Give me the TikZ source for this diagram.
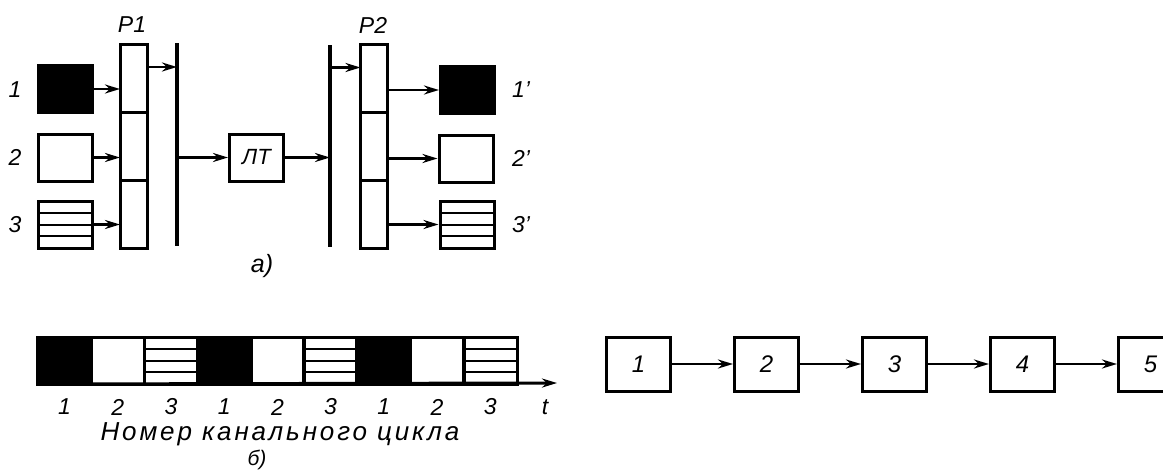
\documentclass[tikz,border=0pt]{standalone}
\usepackage{fontspec}
\setmainfont{Liberation Sans}
\newfontfamily\widefont[LetterSpace=11]{Liberation Sans}
\usetikzlibrary{arrows.meta, positioning, calc}
\tikzstyle{lbl} = [font=\fontsize{23}{27}\selectfont\itshape, inner sep=0pt]
\tikzstyle{chan} = [rectangle, draw=black, line width=3pt, minimum width=54pt, minimum height=47pt, inner sep=0pt, font=\fontsize{22}{26}\selectfont\itshape]
\tikzstyle{blackbox} = [chan, fill=black]
\tikzstyle{striped} = [chan, path picture={\foreach \k in {1,2,3} \draw[line width=2pt] ($(path picture bounding box.north west)!\k/4!(path picture bounding box.south west)$) -- ($(path picture bounding box.north east)!\k/4!(path picture bounding box.south east)$);}]
\tikzstyle{regcell} = [rectangle, draw=black, line width=3pt, minimum width=27pt, minimum height=68pt, inner sep=0pt, outer sep=0pt]
\tikzstyle{slot} = [chan, minimum width=53.2pt, minimum height=45pt, outer sep=0pt]
\tikzstyle{unit} = [chan, minimum width=64pt, minimum height=54pt, font=\fontsize{24}{28}\selectfont\itshape]
\tikzstyle{bus} = [line width=3.5pt]
\tikzstyle{arrow} = [-{Stealth[length=15pt,width=9pt]}, line width=2.5pt]

\begin{document}
\begin{tikzpicture}[x=1pt, y=-1pt]
\useasboundingbox (0,0) rectangle (1163,471);
%источники каналов
\node[blackbox](src1) at (65,89) {};
\node[chan](src2) at (65,157.5) {};
\node[striped](src3) at (65,224.5) {};
\node[lbl](lab1) at (15,90) {1};
\node[lbl](lab2) at (15,157) {2};
\node[lbl](lab3) at (15,225) {3};
%распределитель Р1
\node[regcell](reg1a) at (133.5,78) {};
\node[regcell, below=0pt of reg1a](reg1b) {};
\node[regcell, below=0pt of reg1b](reg1c) {};
\node[lbl](p1) at (132,25) {Р1};
\coordinate (bar1top) at (177,43);
\coordinate (bar1bot) at (177,246);
\draw [bus] (bar1top) -- (bar1bot);
%линейный тракт
\node[chan](lt) at (256.5,157.5) {ЛТ};
\coordinate (bar2top) at (330,45);
\coordinate (bar2bot) at (330,247);
\draw [bus] (bar2top) -- (bar2bot);
%распределитель Р2
\node[regcell](reg2a) at (374,78.5) {};
\node[regcell, below=0pt of reg2a](reg2b) {};
\node[regcell, below=0pt of reg2b](reg2c) {};
\node[lbl](p2) at (373,25) {Р2};
%приемники
\node[blackbox](out1) at (467.5,90) {};
\node[chan](out2) at (466,158.5) {};
\node[striped](out3) at (467,224.5) {};
\node[lbl](lab1p) at (521,90) {1'};
\node[lbl](lab2p) at (521,158) {2'};
\node[lbl](lab3p) at (521,225) {3'};
\node[lbl, font=\fontsize{25}{29}\selectfont\itshape](capa) at (262,266) {а)};
%соединения
\draw [arrow] (src1.east) -- (src1.east -| reg1a.west);
\draw [arrow] (src2.east) -- (src2.east -| reg1a.west);
\draw [arrow] (src3.east) -- (src3.east -| reg1a.west);
\draw [arrow] ([yshift=11pt]reg1a.east) -- ([yshift=11pt]reg1a.east -| bar1top);
\draw [arrow] (lt.west -| bar1top) -- (lt.west);
\draw [arrow] (lt.east) -- (lt.east -| bar2top);
\draw [arrow] ([yshift=11pt]reg2a.west -| bar2top) -- ([yshift=11pt]reg2a.west);
\draw [arrow] (out1.west -| reg2a.east) -- (out1.west);
\draw [arrow] (out2.west -| reg2a.east) -- (out2.west);
\draw [arrow] (out3.west -| reg2a.east) -- (out3.west);
%канальные интервалы
\foreach \i/\n/\kind in {1/1/blackbox,2/2/chan,3/3/striped,4/1/blackbox,5/2/chan,6/3/striped,7/1/blackbox,8/2/chan,9/3/striped}{
  \node[slot, \kind](cell\i) at (38+53.2*\i-26.6,360.5) {};
  \node[lbl](num\i) at ([yshift=-46.5pt]cell\i.center) {\n};
}
\coordinate (tend) at (557,383);
\draw [arrow, line width=3pt] (cell1.south west) -- (tend);
\node[lbl](tlab) at (545,407) {t};
\node[font=\widefont\fontsize{26}{30}\selectfont\itshape, inner sep=0pt](cyc) at (280,434) {Номер канального цикла};
\node[lbl, font=\fontsize{21}{25}\selectfont\itshape](capb) at (257,460) {б)};
%цепочка блоков
\node[unit](u1) at (638.5,364) {1};
\node[unit, right=61pt of u1](u2) {2};
\node[unit, right=61pt of u2](u3) {3};
\node[unit, right=61pt of u3](u4) {4};
\node[unit, right=61pt of u4](u5) {5};
\draw [arrow] (u1) -- (u2);
\draw [arrow] (u2) -- (u3);
\draw [arrow] (u3) -- (u4);
\draw [arrow] (u4) -- (u5);
\end{tikzpicture}
\end{document}
